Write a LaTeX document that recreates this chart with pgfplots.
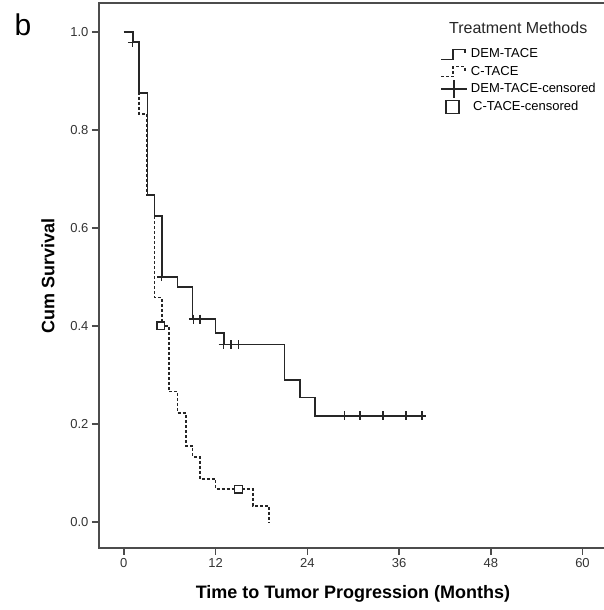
\documentclass[border=0pt]{standalone}
\usepackage{fontspec}
\setmainfont{Liberation Sans}
\usepackage{pgfplots}
\pgfplotsset{compat=1.18}

\colorlet{curve}{black!85}
\colorlet{frame}{black!70}

\begin{document}
\begin{tikzpicture}
\begin{axis}[
  at={(0pt,0pt)}, anchor=south west,
  scale only axis, width=511pt, height=545pt,
  xmin=-3.25, xmax=63.6, ymin=-0.0531, ymax=1.0592,
  xtick={0,12,24,36,48,60},
  ytick={0,0.2,0.4,0.6,0.8,1},
  xtick pos=bottom, ytick pos=left,
  tick align=outside, major tick length=7pt,
  axis line style={frame, line width=1.6pt},
  every tick/.style={frame, line width=1.5pt},
  /pgf/number format/assume math mode=true,
  ticklabel style={font=\fontsize{13}{15}\selectfont, text=black!80},
  yticklabel style={/pgf/number format/.cd, fixed, fixed zerofill, precision=1},
  xlabel={Time to Tumor Progression (Months)},
  ylabel={Cum Survival},
  label style={font=\fontsize{18}{21}\selectfont\bfseries},
  xlabel style={at={(axis description cs:0.497,-0.0844)}, anchor=center},
  ylabel style={at={(axis description cs:-0.0999,0.5)}, anchor=center, rotate=0},
  legend style={at={(rel axis cs:0.6677,0.918)}, anchor=north west,
    draw=none, fill=none, inner sep=0pt, row sep=4.3pt, column sep=3pt,
    font=\fontsize{13}{15}\selectfont,
    nodes={inner sep=0pt, text height=10pt, text depth=3pt}},
  legend cell align=left,
]
% DEM-TACE
\addplot[const plot, curve, line width=1.7pt, forget plot] coordinates {
  (0,1.0) (1.2,0.979) (2.0,0.875) (3.1,0.667) (4.0,0.625) (5.0,0.500)
  (7.0,0.479) (9.0,0.414) (12.0,0.386) (13.1,0.362) (21.0,0.290)
  (23.0,0.254) (25.0,0.217) (39.5,0.217)};
% C-TACE
\addplot[const plot, curve, line width=1.6pt, dash pattern=on 3pt off 2pt, forget plot] coordinates {
  (0,1.0) (1.2,0.979) (2.0,0.833) (3.0,0.667) (4.0,0.458) (5.0,0.400)
  (5.9,0.266) (7.0,0.222) (8.1,0.155) (9.0,0.133) (10.0,0.088)
  (12.0,0.067) (16.9,0.033) (19.0,0.0)};
% DEM-TACE censored
\addplot[only marks, mark=+, mark size=4.5pt, curve, line width=1.4pt, forget plot] coordinates {
  (1.1,0.979) (4.9,0.500) (9.1,0.414) (9.95,0.414) (13.0,0.362) (14.0,0.362)
  (15.0,0.362) (28.9,0.217) (30.9,0.217) (33.9,0.217) (36.9,0.217) (39.0,0.217)};
% C-TACE censored
\addplot[only marks, mark=square*, mark size=3.8pt, curve, line width=1.4pt,
  mark options={fill=white}, forget plot] coordinates {
  (4.85,0.400) (15.0,0.067)};

\addlegendimage{legend image code/.code={
  \draw[curve, line width=1.6pt] (0pt,-5pt) -- (12pt,-5pt) -- (12pt,5pt) -- (24pt,5pt) -- (24pt,1pt);}}
\addlegendentry{DEM-TACE}
\addlegendimage{legend image code/.code={
  \draw[curve, line width=1.5pt, dash pattern=on 3pt off 2pt] (0pt,-5pt) -- (12pt,-5pt) -- (12pt,5pt) -- (24pt,5pt) -- (24pt,1pt);}}
\addlegendentry{C-TACE}
\addlegendimage{legend image code/.code={
  \draw[curve, line width=1.6pt] (0pt,0pt) -- (26pt,0pt);
  \draw[curve, line width=1.6pt, overlay] (13pt,-9pt) -- (13pt,9pt);}}
\addlegendentry{DEM-TACE-censored}
\addlegendimage{legend image code/.code={
  \path[draw=none, fill=none] (0pt,-1pt) rectangle (26pt,1pt);
  \draw[curve, line width=1.6pt, fill=white] (5pt,-6.5pt) rectangle (18pt,6.5pt);}}
\addlegendentry{\,C-TACE-censored}

\node[font=\fontsize{16}{19}\selectfont, text=black!85] at (rel axis cs:0.8204,0.9541) {Treatment Methods};
\end{axis}
\node[font=\fontsize{30}{34}\selectfont] at (-76pt,523pt) {b};
\pgfresetboundingbox
\path[use as bounding box] (-99pt,-62pt) rectangle (504pt,548pt);
\end{tikzpicture}
\end{document}
